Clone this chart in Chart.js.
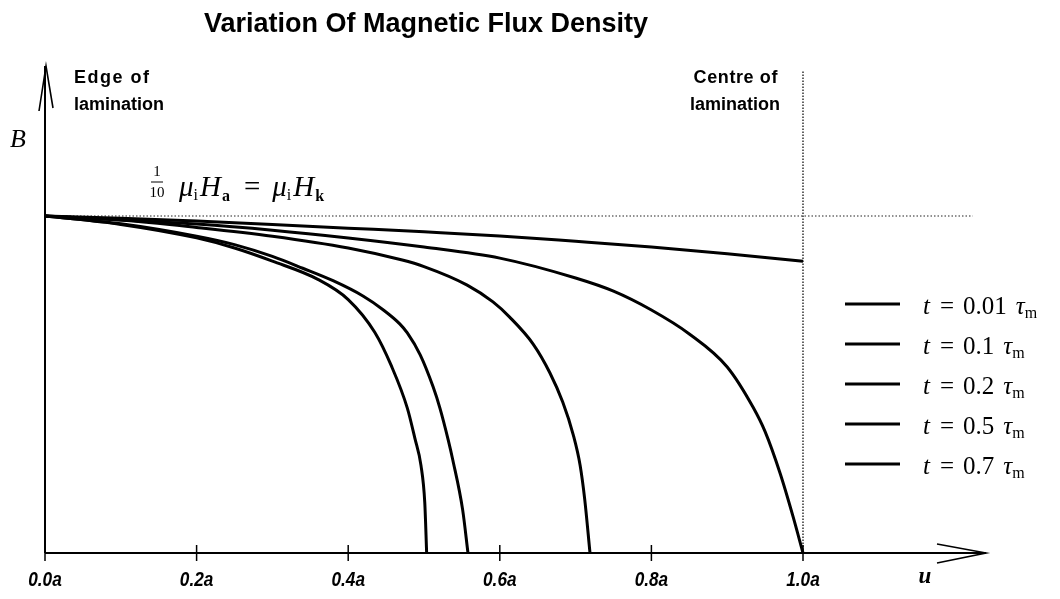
<!DOCTYPE html>
<html>
<head>
<meta charset="utf-8">
<script src="https://cdn.jsdelivr.net/npm/chart.js@4.4.1/dist/chart.umd.min.js"></script>
<style>
  html, body { margin: 0; padding: 0; background: #fff; }
  #wrap { width: 1060px; height: 599px; position: relative; }
  canvas { display: block; }
</style>
</head>
<body>
<div id="wrap"><canvas id="chart" width="1060" height="599"></canvas></div>
<script>
// Normalised depth u (fraction of a) and flux density B (1 = μi·Hk)
const u001 = [0, 0.1, 0.2, 0.25, 0.3, 0.36, 0.40, 0.435, 0.457, 0.478, 0.488, 0.496, 0.501, 0.5035];
const b001 = [1, 0.975, 0.935, 0.905, 0.866, 0.812, 0.752, 0.655, 0.555, 0.43, 0.34, 0.26, 0.15, 0];

const u01 = [0, 0.1, 0.2, 0.25, 0.3, 0.34, 0.38, 0.42, 0.446, 0.468, 0.478, 0.495, 0.512, 0.521, 0.532, 0.538, 0.551, 0.558];
const b01 = [1, 0.977, 0.94, 0.915, 0.88, 0.845, 0.808, 0.762, 0.722, 0.68, 0.653, 0.588, 0.493, 0.43, 0.335, 0.276, 0.128, 0];

const u02 = [0, 0.1, 0.2, 0.3, 0.4, 0.47, 0.5, 0.557, 0.591, 0.613, 0.644, 0.666, 0.683, 0.697, 0.706, 0.712, 0.719];
const b02 = [1, 0.988, 0.966, 0.94, 0.905, 0.87, 0.85, 0.795, 0.745, 0.70, 0.62, 0.535, 0.448, 0.35, 0.26, 0.16, 0];

const u05 = [0, 0.1, 0.2, 0.3, 0.4, 0.5, 0.6, 0.7, 0.75, 0.8, 0.85, 0.9, 0.934, 0.95, 0.97, 0.987, 1.0];
const b05 = [1, 0.988, 0.976, 0.958, 0.935, 0.908, 0.875, 0.816, 0.777, 0.721, 0.65, 0.552, 0.433, 0.36, 0.235, 0.107, 0];

const u07 = [0, 0.1, 0.2, 0.3, 0.4, 0.5, 0.6, 0.7, 0.8, 0.9, 1.0];
const b07 = [1, 0.993, 0.985, 0.975, 0.964, 0.953, 0.941, 0.925, 0.908, 0.888, 0.866];

const seriesTimes = ['0.01', '0.1', '0.2', '0.5', '0.7'];
const tickValues = [0, 0.2, 0.4, 0.6, 0.8, 1.0];
const tickLabels = ['0.0a', '0.2a', '0.4a', '0.6a', '0.8a', '1.0a'];

const saturationLevel = 1;     // B = (1/10) μi Ha = μi Hk
const centrePosition = 1.0;    // u = a, centre of lamination

const toPoints = (xs, ys) => xs.map((x, i) => ({ x: x, y: ys[i] }));

const curveSets = [[u001, b001], [u01, b01], [u02, b02], [u05, b05], [u07, b07]];

const SERIF = "'Liberation Serif', 'Times New Roman', serif";
const SANS = "'Liberation Sans', Arial, sans-serif";

const curveDatasets = curveSets.map((c, i) => ({
  label: 't = ' + seriesTimes[i] + ' τm',
  data: toPoints(c[0], c[1]),
  showLine: true,
  borderColor: '#000',
  borderWidth: 3,
  pointRadius: 0,
  cubicInterpolationMode: 'monotone',
  fill: false,
  order: 1
}));

const refDatasets = [
  {
    label: 'saturation',
    data: [{ x: 0, y: saturationLevel }, { x: 1.224, y: saturationLevel }],
    showLine: true, borderColor: '#222', borderWidth: 1.2, borderDash: [1.5, 2],
    pointRadius: 0, order: 2
  },
  {
    label: 'centre',
    data: [{ x: centrePosition, y: 0 }, { x: centrePosition, y: 1.433 }],
    showLine: true, borderColor: '#222', borderWidth: 1.4, borderDash: [1.5, 1.5],
    pointRadius: 0, order: 2
  }
];

function textRun(ctx, parts, x, y) {
  // parts: [{t, font, dy, dx}] drawn left to right on a common baseline
  let cx = x;
  parts.forEach(p => {
    ctx.font = p.font;
    cx += (p.dx || 0);
    ctx.fillText(p.t, cx, y + (p.dy || 0));
    cx += ctx.measureText(p.t).width;
  });
  return cx;
}

function spacedText(ctx, txt, x, y, spacing) {
  if ('letterSpacing' in ctx) {
    ctx.letterSpacing = spacing + 'px';
    ctx.fillText(txt, x, y);
    ctx.letterSpacing = '0px';
  } else {
    ctx.fillText(txt, x, y);
  }
}

const decorations = {
  id: 'decorations',
  afterDatasetsDraw(chart) {
    const ctx = chart.ctx;
    const xs = chart.scales.x, ys = chart.scales.y;
    const x0 = xs.getPixelForValue(0);
    const y0 = ys.getPixelForValue(0);
    ctx.save();
    ctx.strokeStyle = '#000';
    ctx.fillStyle = '#000';
    ctx.lineCap = 'butt';

    // axes
    ctx.lineWidth = 2;
    ctx.beginPath();
    ctx.moveTo(x0, y0); ctx.lineTo(x0, 66);
    ctx.moveTo(x0, y0); ctx.lineTo(986, y0);
    ctx.stroke();
    // open arrow heads
    ctx.lineWidth = 1.6;
    ctx.beginPath();
    ctx.moveTo(39, 111); ctx.lineTo(x0 + 1, 66); ctx.lineTo(53, 108);
    ctx.moveTo(937, y0 - 9); ctx.lineTo(986, y0); ctx.lineTo(937, y0 + 10);
    ctx.stroke();

    // ticks and condensed italic labels
    ctx.lineWidth = 1.5;
    ctx.textAlign = 'center';
    ctx.textBaseline = 'middle';
    tickValues.forEach((v, i) => {
      const px = xs.getPixelForValue(v);
      ctx.beginPath();
      ctx.moveTo(px, i === 0 ? y0 : y0 - 8); ctx.lineTo(px, y0 + 8);
      ctx.stroke();
      ctx.save();
      ctx.translate(px, 580);
      ctx.scale(0.82, 1);
      ctx.font = 'italic bold 21px ' + SANS;
      ctx.fillText(tickLabels[i], 0, 0);
      ctx.restore();
    });
    ctx.font = 'italic bold 23px ' + SERIF;
    ctx.fillText('u', 925, 577);

    // axis symbol
    ctx.font = 'italic 26px ' + SERIF;
    ctx.fillText('B', 18, 140);

    // title
    ctx.font = 'bold 27px ' + SANS;
    ctx.fillText('Variation Of Magnetic Flux Density', 426, 25);

    // position notes
    ctx.font = 'bold 18px ' + SANS;
    ctx.textAlign = 'left';
    spacedText(ctx, 'Edge of', 74, 78, 1.5);
    ctx.fillText('lamination', 74, 105);
    ctx.textAlign = 'right';
    spacedText(ctx, 'Centre of', 778, 78, 0.6);
    ctx.fillText('lamination', 780, 105);

    // formula (1/10) μi Ha = μi Hk
    ctx.textAlign = 'center';
    ctx.textBaseline = 'alphabetic';
    ctx.font = '15px ' + SERIF;
    ctx.fillText('1', 157, 176);
    ctx.fillText('10', 157, 197);
    ctx.lineWidth = 1;
    ctx.beginPath(); ctx.moveTo(151, 182); ctx.lineTo(163, 182); ctx.stroke();
    ctx.textAlign = 'left';
    const big = 'italic 29px ' + SERIF;
    const sub = '16px ' + SERIF;
    const subB = 'bold 16px ' + SERIF;
    textRun(ctx, [
      { t: 'μ', font: big },
      { t: 'i', font: sub, dy: 4 },
      { t: 'H', font: big, dx: 2 },
      { t: 'a', font: subB, dy: 5, dx: 1 },
      { t: '=', font: '29px ' + SERIF, dx: 14 },
      { t: 'μ', font: big, dx: 12 },
      { t: 'i', font: sub, dy: 4 },
      { t: 'H', font: big, dx: 2 },
      { t: 'k', font: subB, dy: 5, dx: 1 }
    ], 179, 196);

    // legend
    chart.data.datasets.slice(0, seriesTimes.length).forEach((ds, i) => {
      const ly = 304 + i * 40;
      ctx.lineWidth = 3;
      ctx.beginPath(); ctx.moveTo(845, ly); ctx.lineTo(900, ly); ctx.stroke();
      ctx.textBaseline = 'alphabetic';
      textRun(ctx, [
        { t: 't', font: 'italic 25px ' + SERIF },
        { t: '=', font: '25px ' + SERIF, dx: 10 },
        { t: seriesTimes[i], font: '25px ' + SERIF, dx: 9 },
        { t: 'τ', font: 'italic 25px ' + SERIF, dx: 9 },
        { t: 'm', font: '16px ' + SERIF, dy: 4 }
      ], 923, ly + 10);
    });
    ctx.restore();
  }
};

new Chart(document.getElementById('chart'), {
  type: 'scatter',
  data: { datasets: curveDatasets.concat(refDatasets) },
  options: {
    responsive: false,
    devicePixelRatio: 1,
    animation: false,
    layout: { padding: { left: 45, right: 67.5, top: 64.35, bottom: 46 } },
    scales: {
      x: { type: 'linear', min: 0, max: 1.25, display: false },
      y: { type: 'linear', min: 0, max: 1.45, display: false }
    },
    plugins: {
      legend: { display: false },
      title: { display: false },
      tooltip: { enabled: false }
    }
  },
  plugins: [decorations]
});
</script>
</body>
</html>
